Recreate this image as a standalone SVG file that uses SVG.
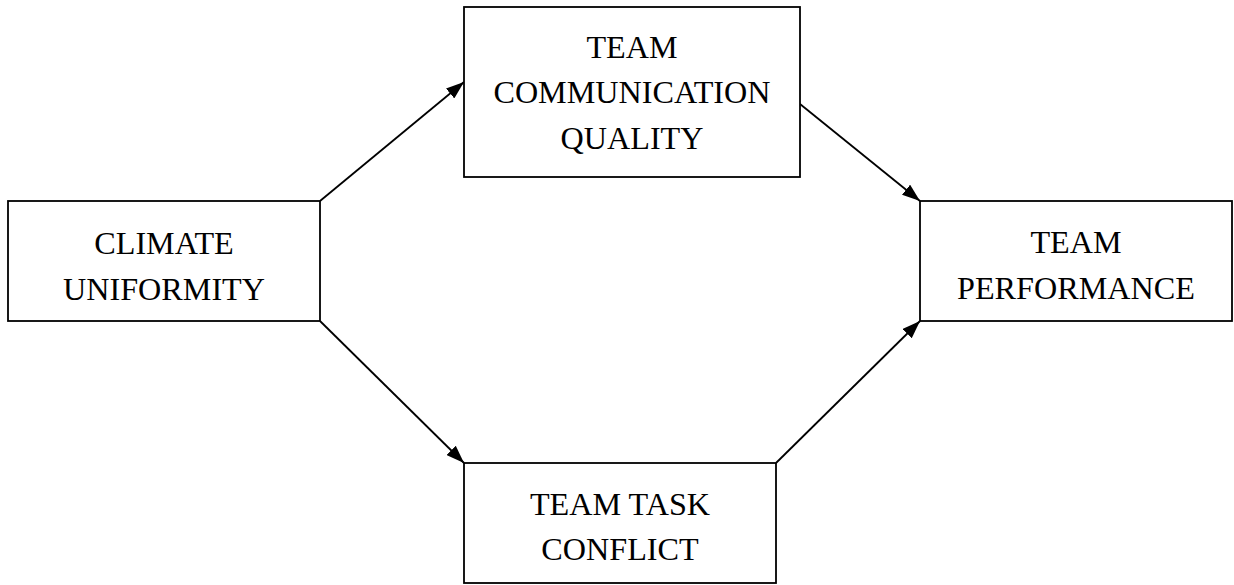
<svg xmlns="http://www.w3.org/2000/svg" width="1234" height="585" viewBox="0 0 1234 585">
<style>
.box{fill:#fff;stroke:#000;stroke-width:1.8}
.t{font-family:"Liberation Serif","Times New Roman",serif;font-size:32.2px;fill:#000;text-anchor:middle}
.c{stroke:#000;stroke-width:1.8;fill:none;marker-end:url(#ah)}
</style>
<defs>
<marker id="ah" viewBox="0 0 18 13" refX="18" refY="6.5" markerWidth="18" markerHeight="13" markerUnits="userSpaceOnUse" orient="auto">
<path d="M0,0 L18,6.5 L0,13 Z" fill="#000"/>
</marker>
</defs>
<g id="connectors">
<line class="c" x1="320" y1="201" x2="464" y2="82"/>
<line class="c" x1="800" y1="104" x2="920" y2="201"/>
<line class="c" x1="320" y1="321" x2="464" y2="463"/>
<line class="c" x1="776" y1="463" x2="920" y2="321"/>
</g>
<g id="climate">
<rect class="box" x="8" y="201" width="312" height="120"/>
<text class="t" x="164" y="254">CLIMATE</text>
<text class="t" x="164" y="300">UNIFORMITY</text>
</g>
<g id="communication">
<rect class="box" x="464" y="7" width="336" height="170"/>
<text class="t" x="632" y="58">TEAM</text>
<text class="t" x="632" y="103">COMMUNICATION</text>
<text class="t" x="632" y="149">QUALITY</text>
</g>
<g id="conflict">
<rect class="box" x="464" y="463" width="312" height="120"/>
<text class="t" x="620" y="515">TEAM TASK</text>
<text class="t" x="620" y="560">CONFLICT</text>
</g>
<g id="performance">
<rect class="box" x="920" y="201" width="312" height="120"/>
<text class="t" x="1076" y="253">TEAM</text>
<text class="t" x="1076" y="299">PERFORMANCE</text>
</g>
</svg>
